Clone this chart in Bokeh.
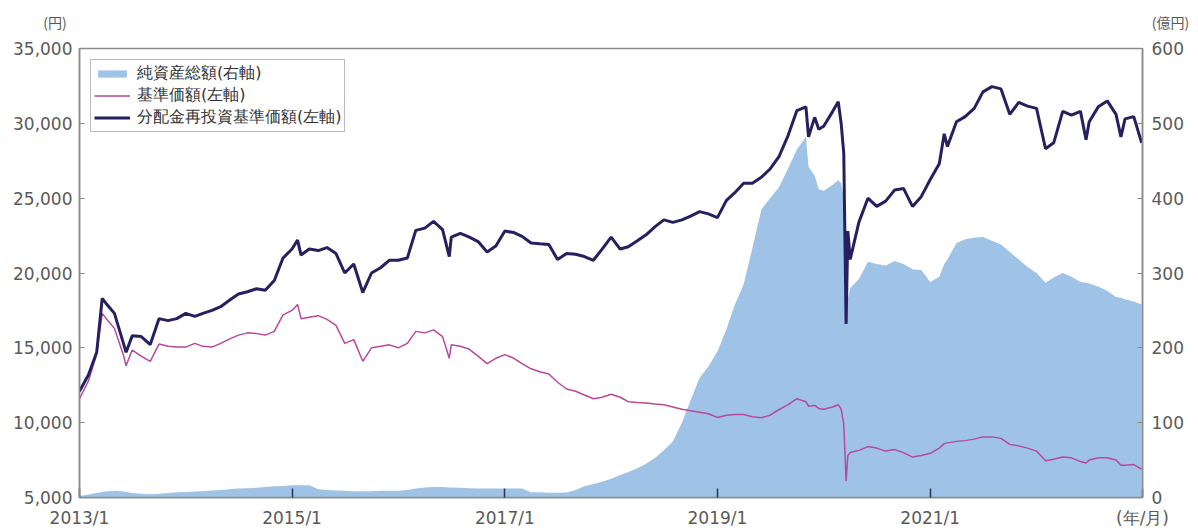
import pandas as pd
from bokeh.plotting import figure
from bokeh.models import Range1d, LinearAxis, FixedTicker, NumeralTickFormatter, ColumnDataSource
from bokeh.embed import file_html
from bokeh.resources import INLINE

# ---------------- data ----------------
dates = [
    "2013-01-01", "2013-02-01", "2013-03-01", "2013-03-20", "2013-04-01", "2013-05-01", "2013-06-01",
    "2013-06-10", "2013-07-01", "2013-08-01", "2013-09-01", "2013-10-01", "2013-11-01", "2013-12-01",
    "2014-01-01", "2014-02-01", "2014-03-01", "2014-04-01", "2014-05-01", "2014-06-01",
    "2014-07-01", "2014-08-01", "2014-09-01", "2014-10-01", "2014-11-01", "2014-12-01",
    "2015-01-01", "2015-01-20", "2015-02-01", "2015-03-01", "2015-04-01", "2015-05-01", "2015-06-01",
    "2015-07-01", "2015-08-01", "2015-09-01", "2015-10-01", "2015-11-01", "2015-12-01",
    "2016-01-01", "2016-02-01", "2016-03-01", "2016-04-01", "2016-05-01", "2016-06-01", "2016-06-24",
    "2016-07-01", "2016-08-01", "2016-09-01", "2016-10-01", "2016-11-01", "2016-12-01",
    "2017-01-01", "2017-02-01", "2017-03-01", "2017-04-01", "2017-05-01", "2017-06-01",
    "2017-07-01", "2017-08-01", "2017-09-01", "2017-10-01", "2017-11-01", "2017-12-01",
    "2018-01-01", "2018-02-01", "2018-03-01", "2018-04-01", "2018-05-01", "2018-06-01",
    "2018-07-01", "2018-08-01", "2018-09-01", "2018-10-01", "2018-11-01", "2018-12-01",
    "2019-01-01", "2019-02-01", "2019-03-01", "2019-04-01", "2019-05-01", "2019-06-01",
    "2019-07-01", "2019-08-01", "2019-09-01", "2019-10-01", "2019-11-01", "2019-11-10",
    "2019-12-01", "2019-12-15",
    "2020-01-01", "2020-02-01", "2020-02-20", "2020-03-01", "2020-03-10", "2020-03-18",
    "2020-03-24", "2020-04-01", "2020-05-01", "2020-06-01", "2020-07-01", "2020-08-01",
    "2020-09-01", "2020-10-01", "2020-11-01", "2020-12-01",
    "2021-01-01", "2021-02-01", "2021-02-18", "2021-03-01", "2021-04-01", "2021-05-01", "2021-06-01",
    "2021-07-01", "2021-08-01", "2021-09-01", "2021-10-01", "2021-11-01", "2021-12-01",
    "2022-01-01", "2022-02-01", "2022-03-01", "2022-04-01", "2022-05-01", "2022-06-01", "2022-06-20",
    "2022-07-01", "2022-08-01", "2022-09-01", "2022-10-01", "2022-10-18", "2022-11-01", "2022-12-01",
    "2022-12-28",
]

# 分配金再投資基準価額 (円, left axis)
nav_reinvested = [
    12100, 13200, 14700, 18300, 18000, 17300, 15300, 14700, 15800, 15750, 15220, 16950, 16820, 16950,
    17300, 17100, 17300, 17500, 17750, 18200, 18600, 18750, 18950, 18850, 19500, 21000,
    21600, 22200, 21200, 21600, 21500, 21700, 21300, 20000, 20600, 18700, 20000, 20350, 20850,
    20850, 21000, 22850, 23000, 23450, 22900, 21100, 22400, 22650, 22400, 22100, 21400, 21800,
    22800, 22700, 22450, 22000, 21950, 21900, 20900, 21300, 21250, 21100, 20850, 21600,
    22400, 21600, 21750, 22150, 22550, 23100, 23550, 23380, 23550, 23800, 24100, 23950,
    23700, 24850, 25350, 26000, 26000, 26400, 26950, 27800, 29200, 30850, 31100, 29100, 30400, 29600,
    29800, 30800, 31450, 30000, 28000, 16600, 22800, 20900, 23400, 25000, 24450, 24800,
    25550, 25650, 24450, 25100,
    26250, 27300, 29300, 28450, 30100, 30450, 31000, 32100, 32450, 32300, 30600, 31400, 31150,
    31000, 28300, 28700, 30800, 30550, 30800, 28900, 30100, 31100, 31500, 30600, 29100, 30300, 30450,
    28700,
]

# 基準価額 (円, left axis)
nav = [
    11600, 12800, 14600, 17300, 17000, 16300, 14500, 13800, 14850, 14450, 14100, 15250, 15100, 15050,
    15050, 15300, 15100, 15050, 15300, 15600, 15850, 16000, 15950, 15850, 16100, 17200,
    17500, 17900, 16950, 17050, 17150, 16900, 16500, 15300, 15550, 14100, 15000, 15100, 15200,
    15000, 15300, 16100, 16000, 16200, 15750, 14300, 15200, 15100, 14900, 14450, 13950, 14300,
    14550, 14300, 13950, 13600, 13400, 13250, 12700, 12250, 12100, 11850, 11600, 11700,
    11900, 11700, 11400, 11350, 11320, 11250, 11200, 11050, 10900, 10800, 10700, 10600,
    10350, 10500, 10550, 10550, 10400, 10330, 10500, 10880, 11200, 11600, 11400, 11100, 11150, 10950,
    10900, 11050, 11200, 10900, 9900, 6100, 7800, 8000, 8150, 8400, 8300, 8100,
    8200, 8000, 7700, 7800,
    7950, 8300, 8600, 8650, 8750, 8800, 8900, 9050, 9050, 8950, 8550, 8450, 8300,
    8100, 7450, 7550, 7700, 7650, 7400, 7300, 7500, 7650, 7650, 7500, 7150, 7150, 7200,
    6900,
]

# 純資産総額 (億円, right axis)
net_assets = [
    2, 4, 6, 7.5, 8, 9, 8, 7.5, 6, 5, 4.5, 5, 6, 7,
    7.5, 8, 8.5, 9.5, 10, 11, 12, 12.5, 13, 14, 15, 15.5,
    16.5, 16.5, 16.5, 16.5, 11, 10, 9.5, 9, 8.5, 8.5, 8.5, 9, 9,
    9, 10, 12, 13.5, 14, 14, 13.5, 13.5, 13, 12.5, 12, 12, 12,
    12, 12, 12, 7, 7, 6.5, 6.5, 6.7, 10, 15, 18, 21,
    25, 30, 34, 39, 45, 53, 63, 75, 100, 130, 160, 175,
    195, 225, 257, 285, 333, 385, 400, 415, 440, 465, 482, 442, 430, 412,
    410, 418, 424, 420, 400, 240, 265, 280, 292, 315, 312, 310,
    316, 312, 305, 304,
    288, 295, 312, 318, 340, 345, 347, 348, 343, 338, 328, 318, 308,
    300, 287, 294, 300, 295, 288, 287, 286, 282, 276, 268, 267, 265, 262,
    258,
]

left_ticks = [5000, 10000, 15000, 20000, 25000, 30000, 35000]
right_ticks = [0, 100, 200, 300, 400, 500, 600]
x_tick_dates = ["2013-01-01", "2015-01-01", "2017-01-01", "2019-01-01", "2021-01-01"]
x_tick_labels = ["2013/1", "2015/1", "2017/1", "2019/1", "2021/1"]
unit_left = "(円)"
unit_right = "(億円)"
unit_x = "(年/月)"

assert len(dates) == len(nav_reinvested) == len(nav) == len(net_assets)

# ---------------- build ----------------
def ms(s):
    return float(pd.Timestamp(s).value // 10**6)

xs = [ms(d) for d in dates]
n = len(xs)
src = ColumnDataSource(dict(x=xs, nav_r=nav_reinvested, nav=nav, assets=net_assets, zero=[0] * n))

FONT = "Noto Sans CJK JP"
NUMFONT = "DejaVu Sans"
GRAY = "#8a8a8a"
TXT = "#5a5a5a"
X0, X1 = ms("2013-01-01"), ms("2022-12-31")

p = figure(width=1198, height=530, output_backend="svg", toolbar_location=None,
           x_range=Range1d(X0, X1), y_range=Range1d(5000, 35000),
           min_border_left=79, min_border_right=56, min_border_top=48, min_border_bottom=32)
p.extra_y_ranges = {"right": Range1d(0, 600)}
p.xgrid.visible = False
p.ygrid.visible = False
p.outline_line_color = GRAY
p.outline_line_width = 1.5
p.background_fill_color = "white"
p.border_fill_color = "white"

p.varea(x="x", y1="zero", y2="assets", source=src, y_range_name="right",
        fill_color="#9fc3e7", fill_alpha=1.0, legend_label="純資産総額(右軸)")
p.line(x="x", y="nav", source=src, line_color="#b8489c", line_width=1.5,
       legend_label="基準価額(左軸)")
p.line(x="x", y="nav_r", source=src, line_color="#252160", line_width=3,
       legend_label="分配金再投資基準価額(左軸)")

# right axis
ax_r = LinearAxis(y_range_name="right")
p.add_layout(ax_r, "right")

for ax in [p.yaxis[0], ax_r]:
    ax.axis_line_color = GRAY
    ax.axis_line_width = 1.5
    ax.major_tick_line_color = GRAY
    ax.major_tick_in = 5
    ax.major_tick_out = 0
    ax.minor_tick_line_color = None
    ax.major_label_text_font = NUMFONT
    ax.major_label_text_font_size = "17px"
    ax.major_label_text_color = TXT

p.yaxis[0].ticker = FixedTicker(ticks=left_ticks)
p.yaxis[0].formatter = NumeralTickFormatter(format="0,0")
p.yaxis[0].major_label_standoff = 7
ax_r.ticker = FixedTicker(ticks=right_ticks)
ax_r.major_label_standoff = 9

# bottom axis (the unit "(年/月)" sits in the same row as the year labels, under the right end)
x_end_tick = X1 - 1
xa = p.xaxis[0]
xa.ticker = FixedTicker(ticks=[ms(d) for d in x_tick_dates] + [x_end_tick])
overrides = {ms(d): lab for d, lab in zip(x_tick_dates, x_tick_labels)}
overrides[x_end_tick] = unit_x
xa.major_label_overrides = overrides
xa.axis_line_color = GRAY
xa.axis_line_width = 1.5
xa.major_tick_line_color = "#2a3550"
xa.major_tick_line_width = 1.5
xa.major_tick_in = 9
xa.major_tick_out = 0
xa.minor_tick_line_color = None
xa.major_label_text_font = NUMFONT
xa.major_label_text_font_size = "17px"
xa.major_label_text_line_height = 1.0
xa.major_label_text_color = TXT
xa.major_label_standoff = 10

# top axis carrying the two unit labels above the frame corners
ax_top = LinearAxis()
t0, t1 = X0 + 1, X1 - 1
ax_top.ticker = FixedTicker(ticks=[t0, t1])
ax_top.major_label_overrides = {t0: unit_left + "\u3000\u3000\u3000\u2002",
                                t1: "\u3000\u3000\u3000\u3000" + unit_right}
ax_top.axis_line_color = None
ax_top.major_tick_line_color = None
ax_top.minor_tick_line_color = None
ax_top.major_label_text_font = FONT
ax_top.major_label_text_font_size = "14px"
ax_top.major_label_text_line_height = 1.0
ax_top.major_label_text_color = TXT
ax_top.major_label_standoff = 11
p.add_layout(ax_top, "above")

# legend
lg = p.legend[0]
lg.location = "top_left"
lg.margin = 11
lg.border_line_color = "#777777"
lg.border_line_width = 1
lg.background_fill_alpha = 1
lg.label_text_font = NUMFONT
lg.label_text_font_size = "16px"
lg.label_text_line_height = 1.0
lg.label_text_color = "#333333"
lg.glyph_width = 36
lg.glyph_height = 9
lg.label_height = 20
lg.label_standoff = 7
lg.padding = 3
lg.spacing = 1

open("out.html", "w").write(file_html(p, INLINE))
